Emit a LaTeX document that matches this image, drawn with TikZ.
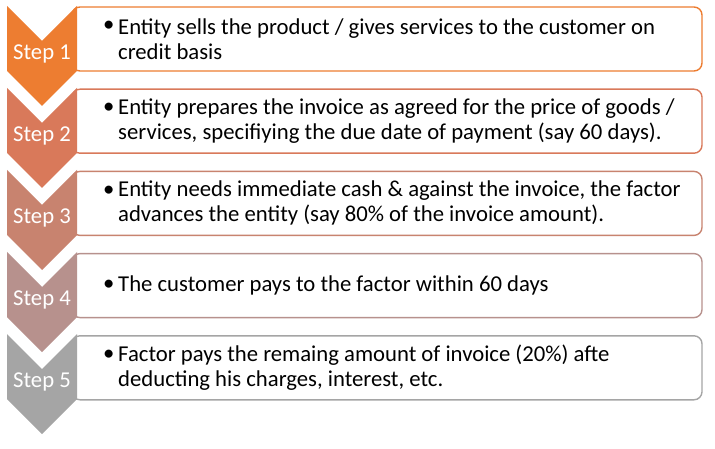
\documentclass[tikz,border=0pt]{standalone}
\usepackage{fontspec}
\setmainfont{Carlito}
\definecolor{c1}{HTML}{ED7D31}
\definecolor{c2}{HTML}{D9795A}
\definecolor{c3}{HTML}{C8836F}
\definecolor{c4}{HTML}{B7918D}
\definecolor{c5}{HTML}{A5A5A5}
\tikzset{
  box/.style={draw=#1, line width=1.4pt, rounded corners=8pt, fill=white,
    minimum width=630pt, minimum height=64pt, inner sep=0pt},
  chev/.style={fill=#1, draw=none},
  steplabel/.style={text=white, font=\fontsize{22.7}{25}\selectfont, inner sep=0pt},
  bul/.style={font=\fontsize{22.7}{25}\selectfont, inner sep=0pt, anchor=west},
  txt/.style={font=\fontsize{22.7}{25}\selectfont, inner sep=0pt, anchor=west, align=left},
}
\begin{document}
\begin{tikzpicture}[x=1pt,y=-1pt]
\useasboundingbox (0,0) rectangle (715,449);
% boxes
\node[box=c1] (b1) at (387,39) {};
\node[box=c2] (b2) at (387,121.2) {};
\node[box=c3] (b3) at (387,203.4) {};
\node[box=c4] (b4) at (387,285.6) {};
\node[box=c5] (b5) at (387,367.8) {};
% chevrons
\foreach \k/\c in {1/c1,2/c2,3/c3,4/c4,5/c5}{
  \pgfmathsetmacro{\t}{6+82*(\k-1)}
  \fill[chev=\c] (7,\t) -- (42,\t+35) -- (77,\t) -- (77,\t+65) -- (42,\t+100) -- (7,\t+65) -- cycle;
}
\node[steplabel] (s1) at (42,54) {Step 1};
\node[steplabel] (s2) at (42,136) {Step 2};
\node[steplabel] (s3) at (42,218) {Step 3};
\node[steplabel] (s4) at (42,300) {Step 4};
\node[steplabel] (s5) at (42,382) {Step 5};
% texts
\node[bul] (p1) at (103,26.5) {•};
\node[txt] (t1) at (118,39) {Entity sells the product / gives services to the customer on\\credit basis};
\node[bul] (p2) at (103,108.7) {•};
\node[txt] (t2) at (118,121.2) {Entity prepares the invoice as agreed for the price of goods /\\services, specifiying the due date of payment (say 60 days).};
\node[bul] (p3) at (103,190.9) {•};
\node[txt] (t3) at (118,203.4) {Entity needs immediate cash \& against the invoice, the factor\\advances the entity (say 80\% of the invoice amount).};
\node[bul] (p4) at (103,285.6) {•};
\node[txt] (t4) at (118,285.6) {The customer pays to the factor within 60 days};
\node[bul] (p5) at (103,355.3) {•};
\node[txt] (t5) at (118,367.8) {Factor pays the remaing amount of invoice (20\%) afte\\deducting his charges, interest, etc.};
\end{tikzpicture}
\end{document}
